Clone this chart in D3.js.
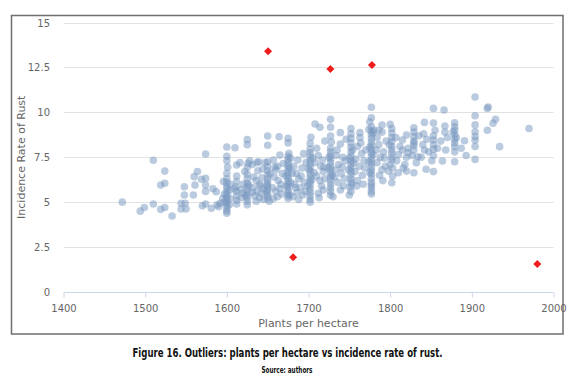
<!DOCTYPE html>
<html><head><meta charset="utf-8">
<script src="https://cdn.jsdelivr.net/npm/d3@7"></script>
<style>
html,body{margin:0;padding:0;background:#fff;}
svg{display:block;}
</style></head>
<body>
<svg id="chart" width="575" height="378"></svg>
<script>
// ---- data ----
const sampleX = [
1472,1494,1499,1510,1510,1519,1524,1519,1524,1524,1533,1544,1549,1544,1550,1548,1548,1559,1560,1561,1564,1569,1574,1574,1574,1574,1570,1574,1581,1587,1592,1583,1590,1595,1588,
1600,1600,1600,1601,1600,1600,1600,1600,1600,1600,1600,1600,1600,1600,1600,1600,1600,1600,1597,1597,1603,1604,1603,1596,1604,
1610,1612,1612,1612,1611,1612,1612,1612,1612,1617,1618,1620,1616,1620,1609,
1625,1625,1626,1628,1625,1625,1625,1625,1625,1625,1625,1625,1625,1625,1622,1627,1623,
1631,1637,1639,1638,1633,1636,1640,1632,1637,1642,1634,1640,1645,1636,1643,1645,1647,1644,1631,1641,
1650,1650,1650,1650,1650,1650,1650,1650,1650,1650,1650,1650,1650,1652,1649,1653,1648,
1657,1664,1665,1662,1660,1658,1663,1666,1656,1660,1667,1662,1657,1668,1665,1659,1669,
1675,1675,1676,1675,1675,1675,1675,1675,1675,1675,1675,1675,1675,1675,1675,1675,1675,1675,1677,1678,1673,1677,1672,1678,
1682,1685,1688,1683,1690,1686,1693,1681,1688,1695,1692,1687,1694,1684,1691,1696,1697,1680,
1703,1702,1702,1702,1702,1702,1702,1702,1702,1702,1702,1702,1702,1702,1702,1702,1702,1702,1700,1704,1699,1705,
1708,1714,1710,1712,1708,1715,1718,1710,1714,1716,1718,1712,1720,1717,1720,1707,1713,1719,
1727,1727,1727,1727,1727,1727,1727,1727,1727,1727,1727,1727,1727,1727,1727,1727,1727,1725,1729,1724,1730,1728,
1739,1739,1735,1742,1737,1733,1740,1744,1736,1739,1743,1745,1734,1741,1746,1732,
1752,1752,1752,1752,1752,1752,1752,1752,1752,1752,1752,1752,1752,1752,1751,1752,1750,1754,1749,1755,1750,1753,
1763,1763,1760,1765,1758,1768,1762,1757,1766,1760,1769,1764,1770,1759,1767,
1777,1777,1775,1777,1777,1777,1777,1777,1777,1777,1777,1777,1777,1777,1777,1777,1777,1777,1777,1777,1777,1777,1777,1775,1779,1774,1779,1775,1780,1774,
1790,1790,1784,1786,1792,1788,1790,1784,1794,1787,1791,1783,1795,1793,1786,
1800,1802,1802,1802,1802,1802,1802,1802,1802,1802,1798,1802,1800,1803,1799,1803,
1810,1815,1820,1815,1820,1820,1808,1812,1818,1822,1807,1816,1810,1822,
1829,1829,1829,1829,1829,1829,1829,1834,1827,1832,1829,1835,
1842,1844,1842,1840,1845,1838,1847,1841,
1853,1853,1853,1853,1853,1853,1853,1853,1855,1851,
1866,1867,1867,1868,1864,1862,1870,1858,
1879,1879,1879,1879,1879,1879,1879,1879,1879,1877,1881,
1891,1887,1893,
1904,1904,1904,1904,1904,1904,1904,1904,
1919,1920,1929,1926,1919,1934,1970
];
const sampleY = [
5.0,4.5,4.7,4.9,7.33,4.6,4.7,5.95,6.05,6.73,4.23,4.94,4.94,4.62,4.62,5.4,5.86,5.4,6.42,5.95,6.7,6.27,6.33,7.68,5.95,5.6,4.8,4.9,4.66,5.58,4.94,5.75,4.75,5.2,4.85,
8.07,7.55,7.3,6.95,6.6,6.3,6.1,5.9,5.75,5.55,5.4,5.25,5.1,4.95,4.8,4.65,4.5,4.38,5.0,5.45,5.65,5.2,4.85,6.15,6.0,
8.03,7.07,6.45,6.15,5.85,5.6,5.35,5.1,4.9,5.7,5.25,6.0,7.2,5.5,5.75,
8.48,8.2,7.16,7.3,6.95,6.55,6.3,6.05,5.85,5.65,5.45,5.25,5.05,4.85,6.7,5.95,5.35,
7.1,7.2,7.25,6.75,6.4,6.2,6.0,5.8,5.6,5.5,5.35,5.25,5.15,5.05,6.35,5.75,7.2,6.85,5.55,5.9,
8.68,8.17,7.25,7.0,6.75,6.5,6.3,6.1,5.9,5.7,5.5,5.35,5.2,5.05,6.0,6.6,5.6,
7.34,8.64,7.62,7.0,6.8,6.4,6.2,6.0,5.8,5.6,5.45,5.3,5.2,6.6,5.75,6.95,7.15,
8.55,8.3,7.72,7.55,7.38,7.2,7.02,6.85,6.68,6.5,6.33,6.16,6.0,5.83,5.66,5.5,5.35,5.2,6.9,6.1,5.9,5.4,6.45,7.45,
7.0,6.6,6.3,6.0,5.8,5.55,5.4,5.3,5.15,6.1,6.9,7.35,7.7,5.8,6.45,5.6,7.2,6.6,
8.61,8.27,7.95,7.75,7.55,7.35,7.15,6.95,6.75,6.55,6.35,6.15,5.95,5.75,5.55,5.35,5.15,5.0,6.85,6.25,5.9,7.45,
9.35,9.17,8.0,7.6,7.2,7.0,6.7,6.45,6.2,5.9,5.68,5.5,6.3,7.35,8.4,6.65,5.25,6.95,
9.61,9.17,8.68,8.0,7.8,7.6,7.4,7.2,7.0,6.8,6.6,6.4,6.2,6.0,5.8,5.6,5.4,7.5,6.5,6.9,5.3,8.35,
8.87,8.24,7.9,7.5,7.1,6.8,6.6,6.3,6.1,5.68,5.9,7.3,7.6,6.95,8.5,6.4,
9.1,8.8,8.55,8.3,8.05,7.8,7.55,7.3,7.1,6.9,6.7,6.5,6.3,6.1,5.83,5.6,5.4,7.9,6.8,7.2,7.45,6.0,
8.87,8.6,8.1,7.7,7.4,7.3,7.0,6.7,6.5,6.2,6.9,8.3,7.9,5.9,6.0,
10.28,9.7,9.48,9.2,8.95,8.75,8.55,8.35,8.15,7.95,7.75,7.55,7.35,7.15,6.95,6.75,6.55,6.33,6.1,5.95,5.8,5.6,5.45,8.05,7.65,7.25,8.85,6.65,9.0,9.05,
9.29,8.9,8.6,8.2,7.8,7.5,6.8,7.2,7.0,6.5,6.2,7.9,8.4,7.45,9.0,
9.33,9.1,8.85,8.6,8.37,8.1,7.9,7.72,7.5,7.35,6.73,6.08,7.1,6.9,8.2,6.45,
6.64,8.46,8.74,7.9,7.5,6.73,7.3,8.1,7.1,8.0,8.6,6.9,7.65,7.75,
9.14,8.9,8.65,8.4,8.15,7.9,6.64,7.53,7.6,7.2,8.3,8.7,
9.44,6.83,7.9,8.2,8.5,7.5,7.8,8.8,
10.22,9.4,8.46,8.2,7.95,7.6,6.7,8.7,9.0,7.3,
10.13,9.24,8.9,7.9,7.29,8.4,8.6,8.0,
9.42,9.2,9.0,8.75,8.5,8.3,8.1,7.8,7.25,8.9,8.6,
8.42,8.0,7.6,
10.85,9.81,8.92,8.44,8.1,7.38,9.3,8.65,
10.22,10.3,9.61,9.39,9.0,8.09,9.1
];
const outlierX = [1650.5, 1726.8, 1777.7, 1681.2, 1980.2];
const outlierY = [13.4, 12.41, 12.63, 1.93, 1.56];
const xTicks = [1400, 1500, 1600, 1700, 1800, 1900, 2000];
const yTicks = [0, 2.5, 5, 7.5, 10, 12.5, 15];
const xTitle = "Plants per hectare";
const yTitle = "Incidence Rate of Rust";
const caption = "Figure 16. Outliers: plants per hectare vs incidence rate of rust.";
const source = "Source: authors";

// ---- drawing ----
const svg = d3.select("#chart");
const x = d3.scaleLinear().domain([1400, 2000]).range([63.5, 553.5]);
const y = d3.scaleLinear().domain([0, 15]).range([292, 22.5]);

// frame
svg.append("rect").attr("x", 11.5).attr("y", 15.5).attr("width", 551.5).attr("height", 318.5)
  .attr("fill", "#fff").attr("stroke", "#6e6e6e").attr("stroke-width", 1.5);

// gridlines
svg.append("g").selectAll("line").data(yTicks.filter(d => d !== 0)).join("line")
  .attr("x1", x(1400)).attr("x2", x(2000))
  .attr("y1", d => Math.round(y(d)) + 0.5).attr("y2", d => Math.round(y(d)) + 0.5)
  .attr("stroke", "#e2e2e2").attr("stroke-width", 1);

// y labels
svg.append("g").selectAll("text").data(yTicks).join("text")
  .attr("x", 50).attr("y", d => y(d) + 4)
  .attr("text-anchor", "end")
  .attr("font-family", "'DejaVu Sans', Verdana, sans-serif").attr("font-size", 10)
  .attr("fill", "#666").text(d => d);

// x axis
const xAxis = d3.axisBottom(x).tickValues(xTicks).tickSize(5).tickPadding(7).tickFormat(d3.format("d"));
const gx = svg.append("g").attr("transform", "translate(0,292.5)").call(xAxis);
gx.select(".domain").attr("stroke", "#ccd6eb").attr("d", `M${x(1400)},0H${x(2000)}`);
gx.selectAll(".tick line").attr("stroke", "#ccd6eb");
gx.selectAll(".tick text").attr("font-family", "'DejaVu Sans', Verdana, sans-serif")
  .attr("font-size", 10).attr("fill", "#666");

// axis titles
svg.append("text").attr("x", (x(1400) + x(2000)) / 2).attr("y", 326.5)
  .attr("text-anchor", "middle").attr("font-family", "'DejaVu Sans', Verdana, sans-serif")
  .attr("font-size", 11).attr("fill", "#666").text(xTitle);
svg.append("text").attr("transform", `translate(25,${(y(0) + y(15)) / 2}) rotate(-90)`)
  .attr("text-anchor", "middle").attr("font-family", "'DejaVu Sans', Verdana, sans-serif")
  .attr("font-size", 11).attr("fill", "#666").text(yTitle);

// points
svg.append("g").selectAll("circle").data(sampleX.map((d, i) => [d, sampleY[i]])).join("circle")
  .attr("cx", d => x(d[0])).attr("cy", d => y(d[1])).attr("r", 3.8)
  .attr("fill", "rgba(119,152,191,0.5)");

// outliers (diamonds)
const dr = 4;
svg.append("g").selectAll("path").data(outlierX.map((d, i) => [d, outlierY[i]])).join("path")
  .attr("d", d => { const cx = x(d[0]), cy = y(d[1]);
    return `M${cx},${cy - dr}L${cx + dr},${cy}L${cx},${cy + dr}L${cx - dr},${cy}Z`; })
  .attr("fill", "#ee1c1c");

// caption
svg.append("text").attr("x", 287.5).attr("y", 357)
  .attr("text-anchor", "middle")
  .attr("font-family", "'Liberation Sans Narrow', 'DejaVu Sans Condensed', 'Liberation Sans', sans-serif")
  .attr("font-size", 13).attr("font-weight", "bold").attr("fill", "#111")
  .attr("textLength", 310).attr("lengthAdjust", "spacingAndGlyphs")
  .text(caption);
svg.append("text").attr("x", 287).attr("y", 372.5)
  .attr("text-anchor", "middle")
  .attr("font-family", "'Liberation Sans Narrow', 'DejaVu Sans Condensed', 'Liberation Sans', sans-serif")
  .attr("font-size", 9.5).attr("font-weight", "bold").attr("fill", "#111")
  .attr("textLength", 51).attr("lengthAdjust", "spacingAndGlyphs")
  .text(source);
</script>
</body></html>
